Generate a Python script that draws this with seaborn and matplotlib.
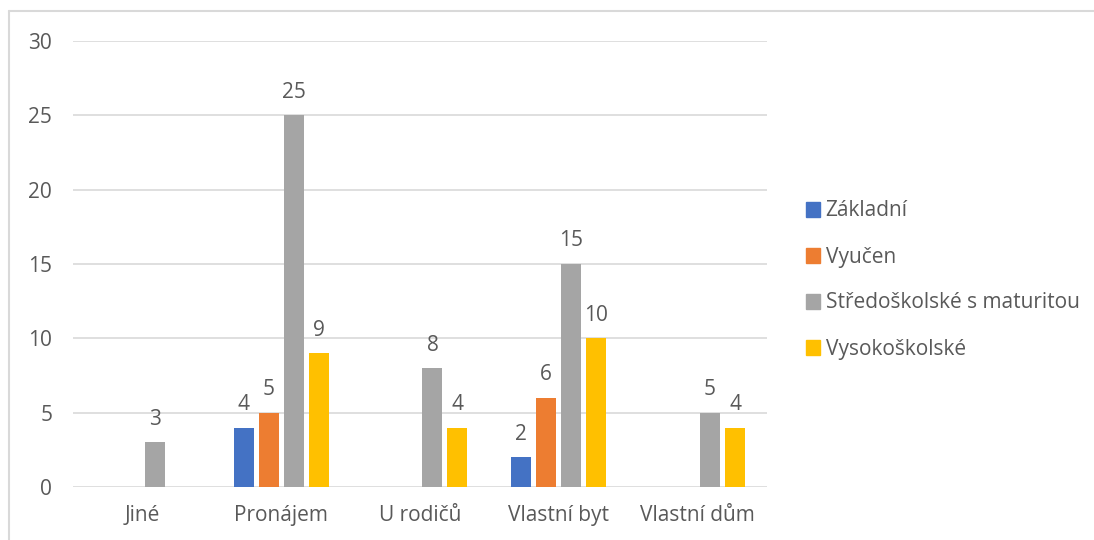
import matplotlib
matplotlib.use("Agg")
import matplotlib.pyplot as plt
import numpy as np
import pandas as pd
import seaborn as sns
from matplotlib.lines import Line2D

categories = ['Jiné', 'Pronájem', 'U rodičů', 'Vlastní byt', 'Vlastní dům']
series = ['Základní', 'Vyučen', 'Středoškolské s maturitou', 'Vysokoškolské']
zakladni = [np.nan, 4, np.nan, 2, np.nan]
vyucen = [np.nan, 5, np.nan, 6, np.nan]
stredoskolske = [3, 25, 8, 15, 5]
vysokoskolske = [np.nan, 9, 4, 10, 4]
colors = ['#4472C4', '#ED7D31', '#A5A5A5', '#FFC000']

rows = []
for name, vals in zip(series, [zakladni, vyucen, stredoskolske, vysokoskolske]):
    for cat, v in zip(categories, vals):
        rows.append({'Bydlení': cat, 'Vzdělání': name, 'Počet': v})
data = pd.DataFrame(rows).dropna()

sns.set_style("white")
plt.rcParams['font.family'] = ['Open Sans', 'DejaVu Sans']
text_color = '#595959'
grid_color = '#D9D9D9'
fs = 15

fig = plt.figure(figsize=(10.94, 5.4), dpi=100)
ax = fig.add_axes([73 / 1094, 53 / 540, 694 / 1094, 446 / 540])

sns.barplot(
    data=data, x='Bydlení', y='Počet', hue='Vzdělání',
    order=categories, hue_order=series, palette=colors,
    width=0.72, gap=0.2, saturation=1, linewidth=0, legend=False, ax=ax
)

for container in ax.containers:
    ax.bar_label(container, fmt='%g', padding=9, fontsize=fs, color=text_color)

ax.set_ylim(0, 30)
ax.set_yticks(range(0, 31, 5))
ax.set_xlim(-0.5, len(categories) - 0.5)
ax.yaxis.grid(True, color=grid_color, linewidth=1.2)
ax.set_axisbelow(True)
for s in ax.spines.values():
    s.set_visible(False)
ax.set_xlabel('')
ax.set_ylabel('')
ax.tick_params(axis='both', length=0, labelsize=fs, colors=text_color)
ax.tick_params(axis='y', pad=15)
ax.tick_params(axis='x', pad=13)

handles = [plt.Rectangle((0, 0), 1, 1, color=c) for c in colors]
fig.legend(
    handles, series, loc='center left', bbox_to_anchor=(787 / 1094, 1 - 280 / 540),
    frameon=False, fontsize=fs, labelcolor=text_color,
    handlelength=0.7, handleheight=0.7, handletextpad=0.25, labelspacing=1.2
)

# outer chart frame
fig.add_artist(Line2D([9 / 1094, 1], [1 - 11 / 540, 1 - 11 / 540], transform=fig.transFigure,
                      color=grid_color, linewidth=1.5))
fig.add_artist(Line2D([9 / 1094, 9 / 1094], [0, 1 - 11 / 540], transform=fig.transFigure,
                      color=grid_color, linewidth=1.5))

fig.savefig('out.png', dpi=100, facecolor='white')
